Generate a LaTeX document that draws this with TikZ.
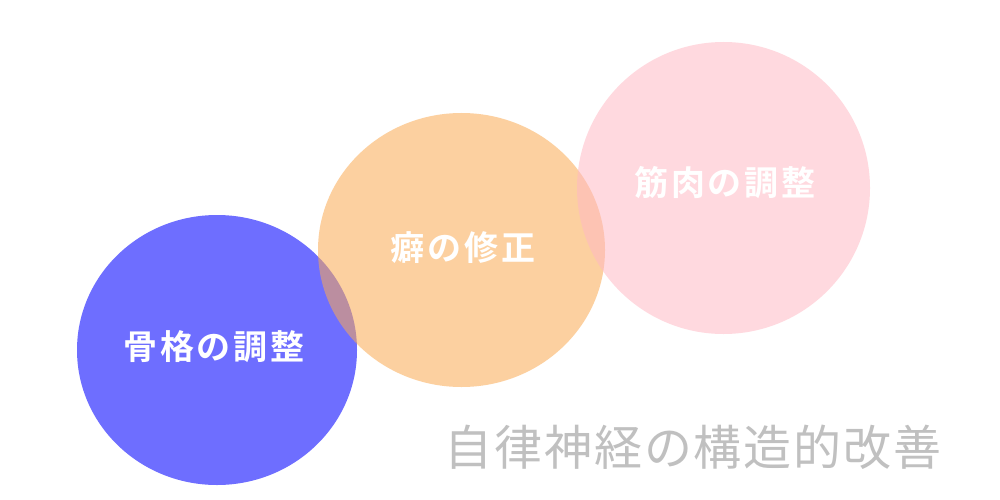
\documentclass[tikz,border=0pt]{standalone}
\usepackage{fontspec}
\newfontfamily\jpbold[LetterSpace=8]{Noto Sans CJK JP Bold}
\newfontfamily\jpreg[LetterSpace=4]{Noto Sans CJK JP}
\definecolor{cblue}{HTML}{6E6EFF}
\definecolor{corange}{HTML}{FBAA52}
\definecolor{cpink}{HTML}{FFB9C4}
\definecolor{cgray}{HTML}{C0C0C0}
\tikzset{
  label/.style={text=white, font=\jpbold\fontsize{34}{34}\selectfont, inner sep=0pt, anchor=center},
  title/.style={text=cgray, font=\jpreg\fontsize{48}{48}\selectfont, inner sep=0pt, anchor=center}
}
\begin{document}
\begin{tikzpicture}[x=1pt,y=-1pt]
\useasboundingbox[fill=white] (0,0) rectangle (1000,500);
\fill[cblue] (217,350) ellipse [x radius=140, y radius=135];
\fill[corange, fill opacity=0.55] (461.5,250) ellipse [x radius=143.5, y radius=137];
\fill[cpink, fill opacity=0.53] (723.5,188) ellipse [x radius=146.5, y radius=146];
\node[label] (a) at (214,347) {骨格の調整};
\node[label] (b) at (463,248) {癖の修正};
\node[label] (c) at (725,183) {筋肉の調整};
\node[title] (t) at (693,447) {自律神経の構造的改善};
\end{tikzpicture}
\end{document}
